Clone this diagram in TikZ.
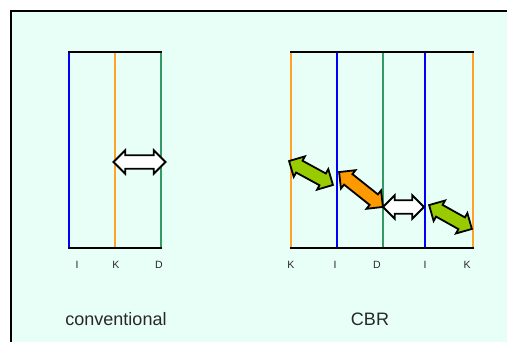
\documentclass[tikz,border=0pt]{standalone}
\usepackage{fontspec}
\setmainfont{Liberation Sans}
\usetikzlibrary{shapes.arrows,positioning,calc}
\definecolor{slidebg}{RGB}{232,255,248}
\definecolor{lineblue}{RGB}{0,0,255}
\definecolor{lineorange}{RGB}{255,163,40}
\definecolor{linegreen}{RGB}{51,153,102}
\definecolor{arrowgreen}{RGB}{153,204,0}
\definecolor{arroworange}{RGB}{255,153,0}
\definecolor{fontgray}{RGB}{40,40,40}

\begin{document}
\begin{tikzpicture}[x=1pt, y=-1pt,
		bandLine/.style={line width=2pt},
		edgeLine/.style={line width=2.5pt, draw=black},
		tickLabel/.style={inner sep=0pt, font=\fontsize{10.5}{12}\selectfont, text=fontgray},
		caption/.style={inner sep=0pt, font=\fontsize{18}{20}\selectfont, text=fontgray},
		swapArrow/.style={double arrow, draw=black, line width=1.8pt, inner xsep=0pt, inner ysep=5.8pt, minimum width=0pt, double arrow head extend=5pt, minimum height=#1},
		]
		
		\useasboundingbox (0,0) rectangle (507,341);
		\clip (0,0) rectangle (507,341);
		\fill[white] (0,0) rectangle (507,341);
		
		% slide frame
		\draw[edgeLine, fill=slidebg] (11,11) rectangle (520,360);
		
		% conventional
		\foreach \x/\c in {69/lineblue, 115/lineorange, 161/linegreen}
		\draw[bandLine, draw=\c] (\x,52) -- (\x,248);
		\draw[edgeLine] (68,52) -- (162,52);
		\draw[edgeLine] (68,248) -- (162,248);
		
		\node[tickLabel] (convI) at (77,265) {I};
		\node[tickLabel] (convK) at (116,265) {K};
		\node[tickLabel] (convD) at (159,265) {D};
		
		\node[swapArrow=52pt, fill=white] (convSwap) at (139.5,162) {};
		
		\node[caption] (convText) at (116,319) {conventional};
		
		% CBR
		\foreach \x/\c in {291/lineorange, 337/lineblue, 383/linegreen, 425/lineblue, 473/lineorange}
		\draw[bandLine, draw=\c] (\x,52) -- (\x,248);
		\draw[edgeLine] (290,52) -- (474,52);
		\draw[edgeLine] (290,248) -- (474,248);
		
		\node[tickLabel] (cbrK1) at (291,265) {K};
		\node[tickLabel] (cbrI1) at (335,265) {I};
		\node[tickLabel] (cbrD) at (377,265) {D};
		\node[tickLabel] (cbrI2) at (425,265) {I};
		\node[tickLabel] (cbrK2) at (467,265) {K};
		
		\node[swapArrow=50pt, fill=arrowgreen, rotate=-28.6] (kiSwap) at (311,173) {};
		\node[swapArrow=56pt, fill=arroworange, rotate=-38.5] (idSwap) at (361,189.5) {};
		\node[swapArrow=41pt, fill=white] (diSwap) at (403.5,207) {};
		\node[swapArrow=49pt, fill=arrowgreen, rotate=-29.2] (ikSwap) at (450.5,217) {};
		
		\node[caption] (cbrText) at (370,319) {CBR};
		
\end{tikzpicture}
\end{document}
